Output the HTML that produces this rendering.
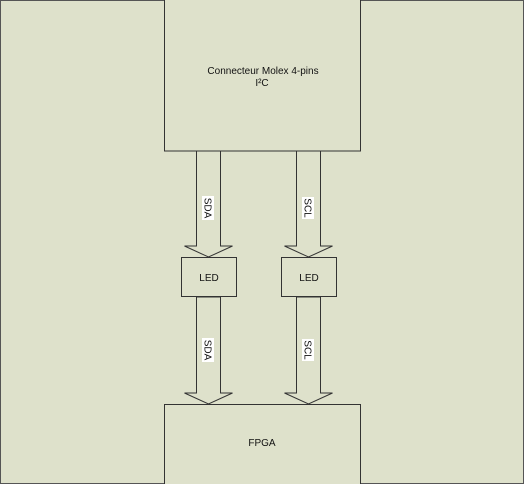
<html><head><style>
body{margin:0;width:525px;height:484px;overflow:hidden;background:#fff}
.t{font-family:"Liberation Sans",sans-serif;font-size:10px;fill:#111}
</style></head><body>
<svg width="525" height="484" xmlns="http://www.w3.org/2000/svg">
<rect x="0.5" y="0.5" width="523" height="483" fill="#dee1cb" stroke="#555"/>
<g fill="#dee1cb" stroke="#333" stroke-width="1">
<rect x="164.5" y="-1" width="196" height="152"/>
<polygon points="196.5,151 220.5,151 220.5,246 232.5,246 208.5,257 184.5,246 196.5,246"/>
<polygon points="296.5,151 320.5,151 320.5,246 332.5,246 308.5,257 284.5,246 296.5,246"/>
<rect x="181.5" y="257.5" width="55" height="39"/>
<rect x="281.5" y="257.5" width="55" height="39"/>
<polygon points="196.5,297 220.5,297 220.5,393 232.5,393 208.5,404 184.5,393 196.5,393"/>
<polygon points="296.5,297 320.5,297 320.5,393 332.5,393 308.5,404 284.5,393 296.5,393"/>
<rect x="164.5" y="404.5" width="196" height="82"/>
</g>
<text class="t" x="263" y="74" text-anchor="middle">Connecteur Molex 4-pins</text>
<text class="t" x="262" y="86" text-anchor="middle">I²C</text>
<text class="t" x="209" y="281" text-anchor="middle">LED</text>
<text class="t" x="309" y="281" text-anchor="middle">LED</text>
<text class="t" x="262" y="446" text-anchor="middle">FPGA</text>
<g>
<rect x="202" y="196" width="12" height="24" fill="#fff"/>
<text class="t" transform="translate(204.5,208) rotate(90)" text-anchor="middle">SDA</text>
<rect x="302" y="197" width="12" height="22" fill="#fff"/>
<text class="t" transform="translate(304.5,208) rotate(90)" text-anchor="middle">SCL</text>
<rect x="202" y="338" width="12" height="24" fill="#fff"/>
<text class="t" transform="translate(204.5,350) rotate(90)" text-anchor="middle">SDA</text>
<rect x="302" y="339" width="12" height="22" fill="#fff"/>
<text class="t" transform="translate(304.5,350) rotate(90)" text-anchor="middle">SCL</text>
</g>
</svg>
</body></html>
